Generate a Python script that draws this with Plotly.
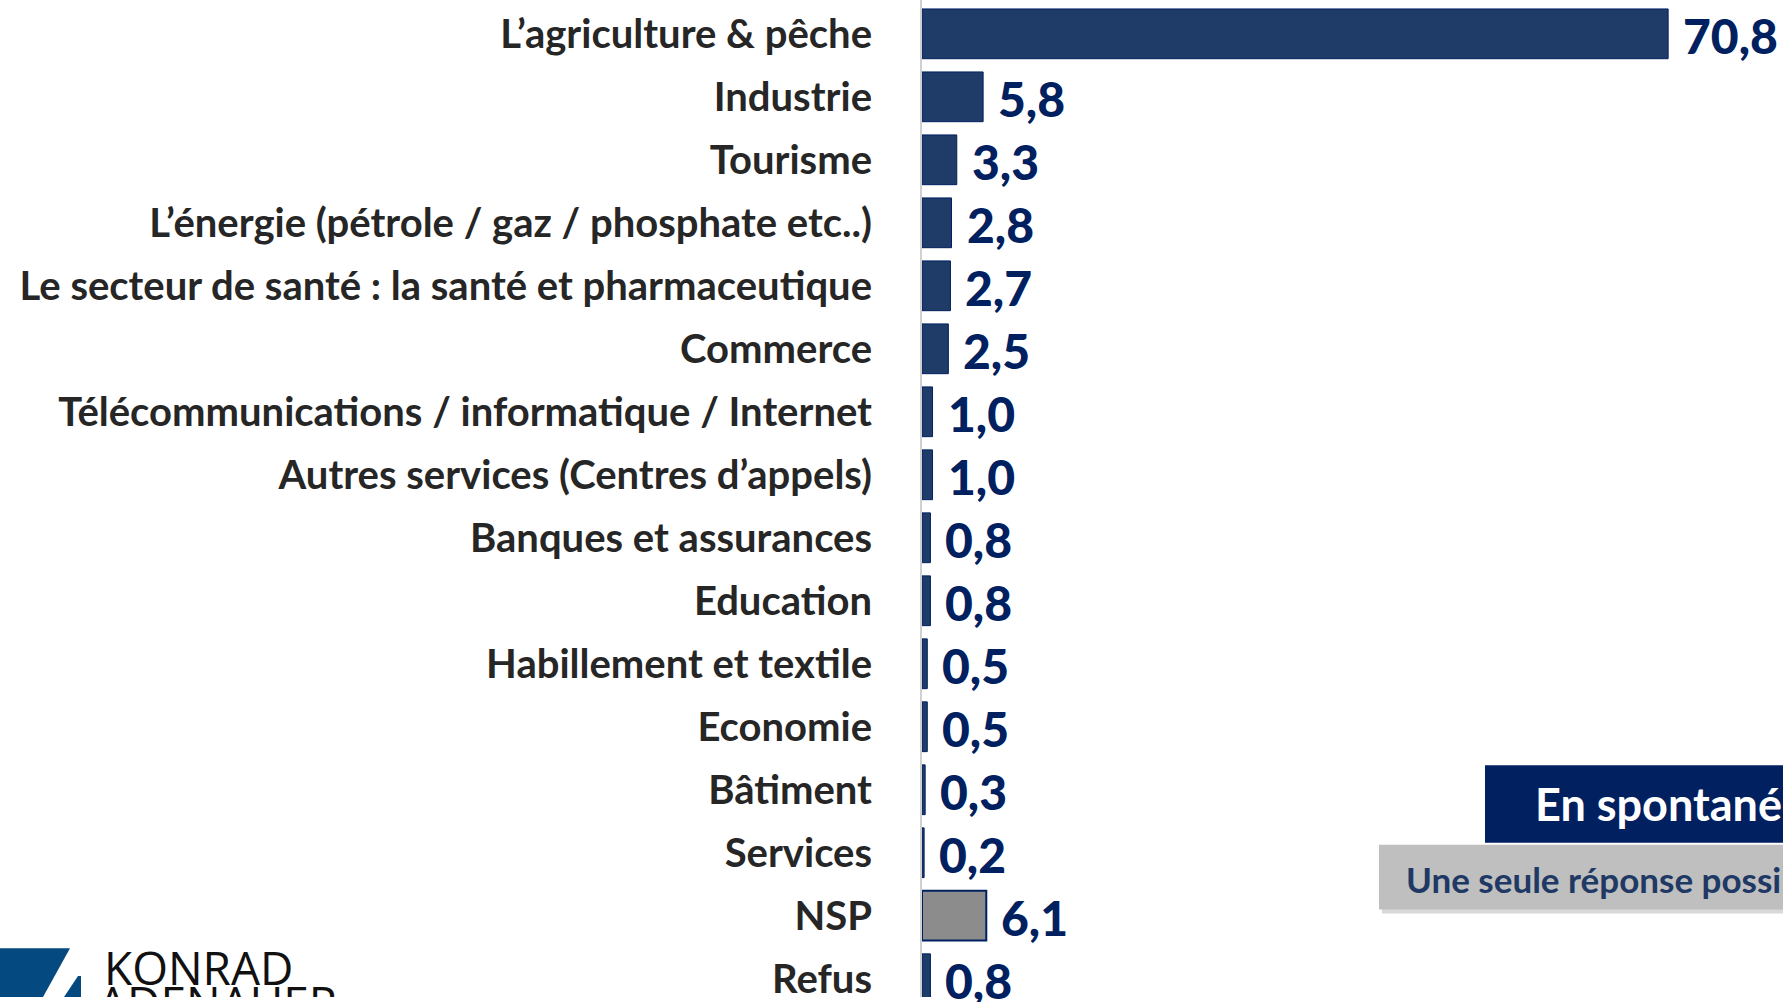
import plotly.graph_objects as go

categories = [
    "L’agriculture & pêche",
    "Industrie",
    "Tourisme",
    "L’énergie (pétrole / gaz / phosphate etc..)",
    "Le secteur de santé : la santé et pharmaceutique",
    "Commerce",
    "Télécommunications / informatique / Internet",
    "Autres services (Centres d’appels)",
    "Banques et assurances",
    "Education",
    "Habillement et textile",
    "Economie",
    "Bâtiment",
    "Services",
    "NSP",
    "Refus",
]
values = [70.8, 5.8, 3.3, 2.8, 2.7, 2.5, 1.0, 1.0, 0.8, 0.8, 0.5, 0.5, 0.3, 0.2, 6.1, 0.8]
value_labels = [f"{v:.1f}".replace(".", ",") for v in values]

W, H = 1783, 1002
NAVY = "#002060"
BAR = "#1F3C68"
GRAY_BAR = "#8C8C8C"

bar_colors = [GRAY_BAR if c == "NSP" else BAR for c in categories]
line_widths = [2 if c == "NSP" else 1 for c in categories]


def px(x):
    return x / W


def py(y):
    return 1 - y / H


fig = go.Figure()
fig.add_trace(go.Bar(
    x=values,
    y=categories,
    orientation="h",
    width=0.79,
    marker=dict(color=bar_colors, line=dict(color=NAVY, width=line_widths)),
    hoverinfo="skip",
))

annotations = []
for c, v, t in zip(categories, values, value_labels):
    annotations.append(dict(
        x=v, y=c, xref="x", yref="y",
        text=t,
        showarrow=False, xanchor="left", yanchor="middle", xshift=13, yshift=-2,
        font=dict(family="Lato", size=48, color=NAVY, weight=900),
    ))

# Legend-like boxes (bottom right)
annotations.append(dict(
    x=px(1533), y=py(808), xref="paper", yref="paper",
    text="En spontané", showarrow=False, xanchor="left", yanchor="middle",
    font=dict(family="Lato", size=45, color="white", weight="bold"),
))
annotations.append(dict(
    x=px(1404), y=py(883), xref="paper", yref="paper",
    text="Une seule réponse possible", showarrow=False, xanchor="left", yanchor="middle",
    font=dict(family="Lato", size=35, color="#203864", weight="bold"),
))
# Logo text
annotations.append(dict(
    x=px(102), y=py(972), xref="paper", yref="paper",
    text="KONRAD", showarrow=False, xanchor="left", yanchor="middle",
    font=dict(family="Open Sans", size=46, color="#111111"),
))

# "ADENAUER" cut by the bottom edge: drawn on an overlay pixel axis with clipping
fig.add_trace(go.Scatter(
    x=[98], y=[1014], mode="text", text=["ADENAUER"], textposition="middle right",
    textfont=dict(family="Open Sans", size=46, color="#111111"),
    xaxis="x2", yaxis="y2", cliponaxis=True, hoverinfo="skip", showlegend=False,
))

shapes = [
    # shadow of grey box
    dict(type="rect", xref="paper", yref="paper", x0=px(1382), x1=px(1790), y0=py(853), y1=py(918),
         fillcolor="#d9d9d9", line=dict(width=0), layer="above"),
    dict(type="rect", xref="paper", yref="paper", x0=px(1379), x1=px(1790), y0=py(849), y1=py(914),
         fillcolor="#BFBFBF", line=dict(width=0), layer="above"),
    dict(type="rect", xref="paper", yref="paper", x0=px(1485), x1=px(1790), y0=py(769), y1=py(847),
         fillcolor=NAVY, line=dict(width=0), layer="above"),
    # logo
    dict(type="path", xref="paper", yref="paper",
         path=f"M 0 {py(953)} L {px(70)} {py(953)} L {px(43)} {py(1002)} L 0 {py(1002)} Z",
         fillcolor="#04497F", line=dict(width=0), layer="above"),
    dict(type="path", xref="paper", yref="paper",
         path=f"M {px(78)} {py(981)} L {px(81)} {py(981)} L {px(81)} {py(1002)} L {px(64)} {py(1002)} Z",
         fillcolor="#04497F", line=dict(width=0), layer="above"),
]

fig.update_layout(
    width=W, height=H,
    margin=dict(l=0, r=0, t=0, b=0),
    paper_bgcolor="white", plot_bgcolor="rgba(0,0,0,0)",
    showlegend=False,
    annotations=annotations,
    shapes=shapes,
    xaxis=dict(domain=[922 / W, 1], range=[0, 81.7], visible=False, fixedrange=True),
    yaxis=dict(
        range=[15.29, -0.537], showgrid=False, zeroline=False,
        showline=True, linecolor="#D0D0D0", linewidth=2,
        ticks="", ticklabelstandoff=40,
        tickfont=dict(family="Lato", size=40, color="#262626", weight="bold"),
        fixedrange=True,
    ),
    xaxis2=dict(domain=[0, 1], range=[0, W], visible=False, fixedrange=True, anchor="y2"),
    yaxis2=dict(domain=[0, 1], range=[H, 0], visible=False, fixedrange=True, anchor="x2"),
)

fig.write_html(
    "out.html",
    config={"displayModeBar": False},
    post_script=(
        "document.documentElement.style.margin='0';"
        "document.body.style.margin='0';"
        "document.body.style.overflow='hidden';"
        "document.documentElement.style.overflow='hidden';"
        "var gd=document.getElementById('{plot_id}');"
        "gd.style.position='fixed';gd.style.top='0';gd.style.left='0';"
        "window.scrollTo(0,0);"
    ),
)
